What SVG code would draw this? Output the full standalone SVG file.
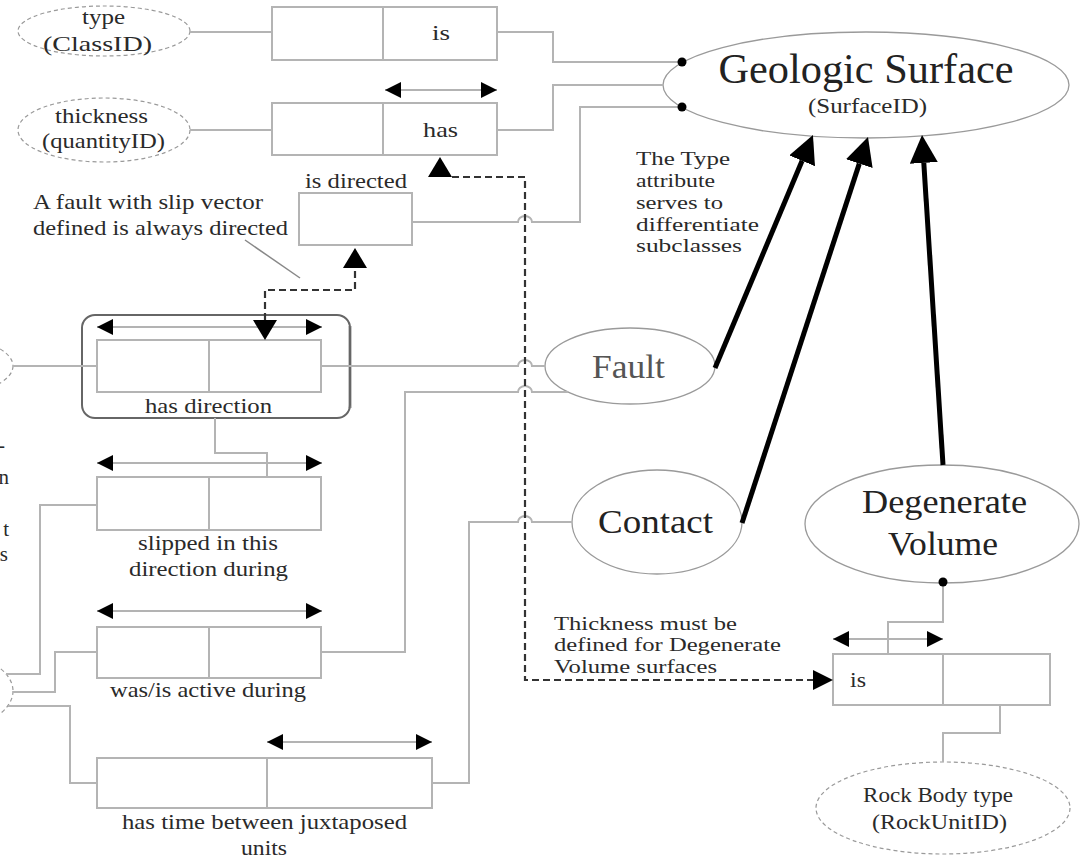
<svg xmlns="http://www.w3.org/2000/svg" width="1082" height="858" viewBox="0 0 1082 858">
<style>
  .bx{fill:#fff;stroke:#b4b4b4;stroke-width:2}
  .dv{stroke:#b4b4b4;stroke-width:2}
  .cn{fill:none;stroke:#b4b4b4;stroke-width:2}
  .att{fill:#fff;stroke:#9a9a9a;stroke-width:1.2;stroke-dasharray:4 3}
  .cls{fill:#fff;stroke:#9a9a9a;stroke-width:1.3}
  .t{font-family:"Liberation Serif","Times New Roman",serif;fill:#2a2a2a;font-size:21px}
  .note{font-size:19px}
  .big-t{font-family:"Liberation Serif","Times New Roman",serif;fill:#222}
  .dbl{fill:none;stroke:#9a9a9a;stroke-width:1.5;marker-start:url(#ah);marker-end:url(#ah)}
  .dash{fill:none;stroke:#333;stroke-width:2.2;stroke-dasharray:7 4}
  .big{fill:none;stroke:#000;stroke-width:5;marker-end:url(#bh)}
  .head{fill:#000}
  .dot{fill:#000}
</style>
<defs>
  <marker id="ah" viewBox="0 0 16 16" refX="16" refY="8" markerWidth="16" markerHeight="16" markerUnits="userSpaceOnUse" orient="auto-start-reverse">
    <path d="M0,0 L16,8 L0,16 z" fill="#000"/>
  </marker>
  <marker id="bh" viewBox="0 0 28 28" refX="0" refY="14" markerWidth="28" markerHeight="28" markerUnits="userSpaceOnUse" orient="auto">
    <path d="M0,0 L28,14 L0,28 z" fill="#000"/>
  </marker>
</defs>
<rect width="1082" height="858" fill="#fff"/>

<!-- value types -->
<g id="type-classid">
  <ellipse class="att" cx="104" cy="31" rx="86" ry="25"/>
  <text class="t" x="82" y="24" textLength="43" lengthAdjust="spacingAndGlyphs">type</text>
  <text class="t" x="43" y="51" textLength="109" lengthAdjust="spacingAndGlyphs">(ClassID)</text>
</g>
<g id="thickness-quantityid">
  <ellipse class="att" cx="104" cy="130" rx="86" ry="32"/>
  <text class="t" x="55" y="123" textLength="93" lengthAdjust="spacingAndGlyphs">thickness</text>
  <text class="t" x="42" y="148" textLength="123" lengthAdjust="spacingAndGlyphs">(quantityID)</text>
</g>
<g id="left-type-a">
  <ellipse class="att" cx="-60" cy="366" rx="73" ry="30"/>
</g>
<g id="left-type-b">
  <ellipse class="att" cx="-60" cy="691" rx="73" ry="40"/>
</g>
<g id="left-notes">
  <text class="t" x="5" y="452" text-anchor="end">-</text>
  <text class="t" x="9" y="484" text-anchor="end">n</text>
  <text class="t" x="9" y="536" text-anchor="end">t</text>
  <text class="t" x="8" y="561" text-anchor="end">s</text>
</g>

<!-- facts -->
<g id="fact-is">
  <rect class="bx" x="272" y="7" width="225" height="53"/>
  <line class="dv" x1="383" y1="7" x2="383" y2="60"/>
  <text class="t" x="432" y="40" textLength="18" lengthAdjust="spacingAndGlyphs">is</text>
</g>
<g id="fact-has">
  <line class="dbl" x1="385" y1="90" x2="497" y2="90"/>
  <rect class="bx" x="272" y="103" width="225" height="52"/>
  <line class="dv" x1="383" y1="103" x2="383" y2="155"/>
  <text class="t" x="423" y="137" textLength="35" lengthAdjust="spacingAndGlyphs">has</text>
</g>
<g id="fact-is-directed">
  <text class="t" x="305" y="188" textLength="102" lengthAdjust="spacingAndGlyphs">is directed</text>
  <rect class="bx" x="299" y="193" width="113" height="52"/>
</g>
<g id="note-slip-vector">
  <text class="t" x="33" y="209" textLength="230" lengthAdjust="spacingAndGlyphs">A fault with slip vector</text>
  <text class="t" x="33" y="235" textLength="255" lengthAdjust="spacingAndGlyphs">defined is always directed</text>
</g>
<g id="fact-has-direction">
  <line x1="350" y1="326" x2="350" y2="408" stroke="#c8c8c8" stroke-width="4"/>
  <rect x="82" y="315" width="268" height="103" rx="13" fill="none" stroke="#666" stroke-width="2"/>
  <line class="dbl" x1="97" y1="327" x2="322" y2="327"/>
  <rect class="bx" x="97" y="340" width="224" height="52"/>
  <line class="dv" x1="209" y1="340" x2="209" y2="392"/>
  <text class="t" x="145" y="413" textLength="127" lengthAdjust="spacingAndGlyphs">has direction</text>
</g>
<g id="fact-slipped">
  <line class="dbl" x1="97" y1="463" x2="322" y2="463"/>
  <rect class="bx" x="97" y="477" width="224" height="53"/>
  <line class="dv" x1="209" y1="477" x2="209" y2="530"/>
  <text class="t" x="138" y="550" textLength="140" lengthAdjust="spacingAndGlyphs">slipped in this</text>
  <text class="t" x="129" y="576" textLength="159" lengthAdjust="spacingAndGlyphs">direction during</text>
</g>
<g id="fact-active">
  <line class="dbl" x1="97" y1="611" x2="322" y2="611"/>
  <rect class="bx" x="97" y="627" width="224" height="51"/>
  <line class="dv" x1="209" y1="627" x2="209" y2="678"/>
  <text class="t" x="110" y="697" textLength="196" lengthAdjust="spacingAndGlyphs">was/is active during</text>
</g>
<g id="fact-time-between">
  <line class="dbl" x1="267" y1="742" x2="432" y2="742"/>
  <rect class="bx" x="97" y="758" width="335" height="50"/>
  <line class="dv" x1="267" y1="758" x2="267" y2="808"/>
  <text class="t" x="122" y="829" textLength="285" lengthAdjust="spacingAndGlyphs">has time between juxtaposed</text>
  <text class="t" x="241" y="855" textLength="46" lengthAdjust="spacingAndGlyphs">units</text>
</g>

<!-- entity types -->
<g id="geologic-surface">
  <ellipse class="cls" cx="866" cy="85" rx="203" ry="53"/>
  <text class="big-t" x="866" y="83" font-size="42" text-anchor="middle" textLength="295" lengthAdjust="spacingAndGlyphs">Geologic Surface</text>
  <text class="t" x="808" y="113" font-size="17" textLength="119" lengthAdjust="spacingAndGlyphs">(SurfaceID)</text>
</g>
<g id="note-type-attribute">
  <text class="t note" x="636" y="165" textLength="94" lengthAdjust="spacingAndGlyphs">The Type</text>
  <text class="t note" x="636" y="187" textLength="79" lengthAdjust="spacingAndGlyphs">attribute</text>
  <text class="t note" x="636" y="209" textLength="87" lengthAdjust="spacingAndGlyphs">serves to</text>
  <text class="t note" x="636" y="231" textLength="123" lengthAdjust="spacingAndGlyphs">differentiate</text>
  <text class="t note" x="636" y="252" textLength="106" lengthAdjust="spacingAndGlyphs">subclasses</text>
</g>
<g id="fault">
  <ellipse class="cls" cx="630" cy="366" rx="85" ry="38"/>
  <text class="big-t" x="592" y="378" font-size="34" style="fill:#555" textLength="73" lengthAdjust="spacingAndGlyphs">Fault</text>
</g>
<g id="contact">
  <ellipse class="cls" cx="657" cy="522" rx="85" ry="52"/>
  <text class="big-t" x="598" y="533" font-size="34" textLength="115" lengthAdjust="spacingAndGlyphs">Contact</text>
</g>
<g id="degenerate-volume">
  <ellipse class="cls" cx="942" cy="524" rx="137" ry="59"/>
  <text class="big-t" x="862" y="513" font-size="34" textLength="165" lengthAdjust="spacingAndGlyphs">Degenerate</text>
  <text class="big-t" x="888" y="555" font-size="34" textLength="110" lengthAdjust="spacingAndGlyphs">Volume</text>
</g>
<g id="note-thickness">
  <text class="t note" x="554" y="630" textLength="183" lengthAdjust="spacingAndGlyphs">Thickness must be</text>
  <text class="t note" x="554" y="651" textLength="227" lengthAdjust="spacingAndGlyphs">defined for Degenerate</text>
  <text class="t note" x="554" y="673" textLength="163" lengthAdjust="spacingAndGlyphs">Volume surfaces</text>
</g>
<g id="fact-dv-is">
  <line class="dbl" x1="833" y1="639" x2="943" y2="639"/>
  <rect class="bx" x="833" y="654" width="217" height="51"/>
  <line class="dv" x1="943" y1="654" x2="943" y2="705"/>
  <text class="t" x="850" y="687" textLength="16" lengthAdjust="spacingAndGlyphs">is</text>
</g>
<g id="rock-body-type">
  <ellipse class="att" cx="943" cy="808" rx="127" ry="46"/>
  <text class="t" x="863" y="802" textLength="150" lengthAdjust="spacingAndGlyphs">Rock Body type</text>
  <text class="t" x="872" y="829" textLength="135" lengthAdjust="spacingAndGlyphs">(RockUnitID)</text>
</g>

<!-- connectors (drawn last so end dots sit on the ellipse outlines) -->
<g id="connectors">
  <!-- attribute ellipses to fact boxes -->
  <path class="cn" d="M190,32 H272"/>
  <path class="cn" d="M190,130 H272"/>
  <path class="cn" d="M497,32 H553 V62 H682"/>
  <path class="cn" d="M497,130 H553 V85 H663"/>
  <path class="cn" d="M412,222 H518 A7,6 0 0 1 532,222 H580 V107 H682"/>
  <!-- has direction -->
  <path class="cn" d="M13,366 H97"/>
  <path class="cn" d="M321,366 H518 A7,6 0 0 1 532,366 H545"/>
  <path class="cn" d="M215,418 V453 H267 V477"/>
  <!-- time facts -->
  <path class="cn" d="M6,674 H40 V505 H97"/>
  <path class="cn" d="M13,692 H55 V652 H97"/>
  <path class="cn" d="M8,706 H70 V783 H97"/>
  <path class="cn" d="M321,652 H405 V392 H518 A7,6 0 0 1 532,392 H568"/>
  <path class="cn" d="M432,783 H469 V522 H518 A7,6 0 0 1 532,522 H572"/>
  <!-- degenerate volume -->
  <path class="cn" d="M943,582 V622 H888 V654"/>
  <path class="cn" d="M1000,705 V733 H943 V762"/>
  <!-- annotation leader -->
  <path d="M245,240 L300,278" stroke="#888" stroke-width="1.5"/>

  <!-- constraint paths -->
  <path class="dash" d="M452,177 H525 V680 H815"/>
  <polygon class="head" points="440,157 428,177 452,177"/>
  <polygon class="head" points="833,680 813,670 813,690"/>
  <path class="dash" d="M265,320 V290 H355 V268"/>
  <polygon class="head" points="265,340 253,320 277,320"/>
  <polygon class="head" points="355,248 343,268 367,268"/>

  <!-- subtype arrows -->
  <line class="big" x1="715" y1="368" x2="802.1" y2="160.8"/>
  <line class="big" x1="742" y1="523" x2="859.3" y2="163.6"/>
  <line class="big" x1="943" y1="465" x2="923.8" y2="162.9"/>

  <circle class="dot" cx="682" cy="62" r="4.5"/>
  <circle class="dot" cx="682" cy="107" r="4.5"/>
  <circle class="dot" cx="943" cy="582" r="4.5"/>
</g>
</svg>
